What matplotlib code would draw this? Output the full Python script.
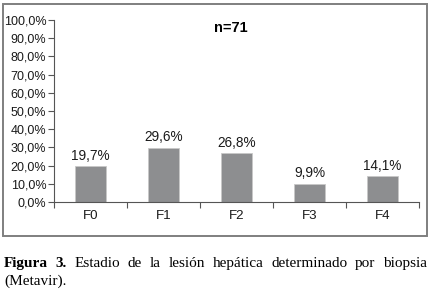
#!/usr/bin/env python3
import matplotlib
matplotlib.use("Agg")
import matplotlib.pyplot as plt
from matplotlib.patches import Rectangle
from matplotlib.ticker import FixedLocator

# --- Data ---
stages  = ["F0", "F1", "F2", "F3", "F4"]
percent = [19.7, 29.6, 26.8, 9.9, 14.1]
yticks  = [0, 10, 20, 30, 40, 50, 60, 70, 80, 90, 100]
n_label = "n=71"
caption_bold = "Figura 3."
caption_rest = "Estadio de la lesión hepática determinado por biopsia"
caption_line2 = "(Metavir)."

W, H = 430, 294
plt.rcParams["font.family"] = ["Liberation Sans", "DejaVu Sans"]
fig = plt.figure(figsize=(W / 100, H / 100), dpi=100)

# outer frame around chart
fig.patches.append(Rectangle((3 / W, 1 - 236 / H), 424 / W, 232 / H,
                             transform=fig.transFigure, fill=False,
                             edgecolor="#7f7f7f", linewidth=1.4))

fs = 9.0
ax = fig.add_axes([54 / W, 1 - 202 / H, 365 / W, 182 / H])
x = list(range(len(stages)))
ax.bar(x, percent, width=0.42, color="#8d8e90", edgecolor="#c8c8c8", linewidth=0.6)
for xi, v in zip(x, percent):
    ax.text(xi, v + 2.0, f"{v:.1f}%".replace(".", ","), ha="center", va="bottom",
            fontsize=9.8, color="#1a1a1a")

ax.set_xlim(-0.5, len(stages) - 0.5)
ax.set_ylim(0, 100)
ax.set_yticks(yticks)
ax.set_yticklabels([f"{t:.1f}%".replace(".", ",") for t in yticks], fontsize=fs, color="#1a1a1a")
ax.set_xticks(x)
ax.set_xticklabels(stages, fontsize=9.6, color="#1a1a1a")
ax.xaxis.set_minor_locator(FixedLocator([i - 0.5 for i in range(len(stages) + 1)]))
ax.tick_params(axis="x", which="major", length=0, pad=6)
ax.tick_params(axis="x", which="minor", length=4, width=0.8, direction="out", color="#555555")
ax.tick_params(axis="y", length=4, width=0.8, direction="out", color="#555555", pad=1.5)
for s in ["top", "right"]:
    ax.spines[s].set_visible(False)
for s in ["left", "bottom"]:
    ax.spines[s].set_color("#555555")
    ax.spines[s].set_linewidth(0.8)
ax.text(0.485, 0.955, n_label, transform=ax.transAxes, ha="center", va="center",
        fontsize=10.5, fontweight="bold")

# --- justified caption ---
serif = ["Liberation Serif", "DejaVu Serif"]
cfs = 11
fig.canvas.draw()
r = fig.canvas.get_renderer()
words = [(w, "bold") for w in caption_bold.split()] + \
        [(w, "normal") for w in caption_rest.split()]
y1 = 1 - 267 / H
texts = []
for w, wt in words:
    t = fig.text(0, y1, w, fontsize=cfs, family=serif, fontweight=wt, va="baseline")
    texts.append(t)
widths = [t.get_window_extent(r).width for t in texts]
left, right = 4, 427
gap = (right - left - sum(widths)) / (len(words) - 1)
xpos = left
for t, w in zip(texts, widths):
    t.set_x(xpos / W)
    xpos += w + gap
fig.text(4 / W, 1 - 285 / H, caption_line2, fontsize=cfs, family=serif, va="baseline")

fig.savefig("out.png", dpi=100)
